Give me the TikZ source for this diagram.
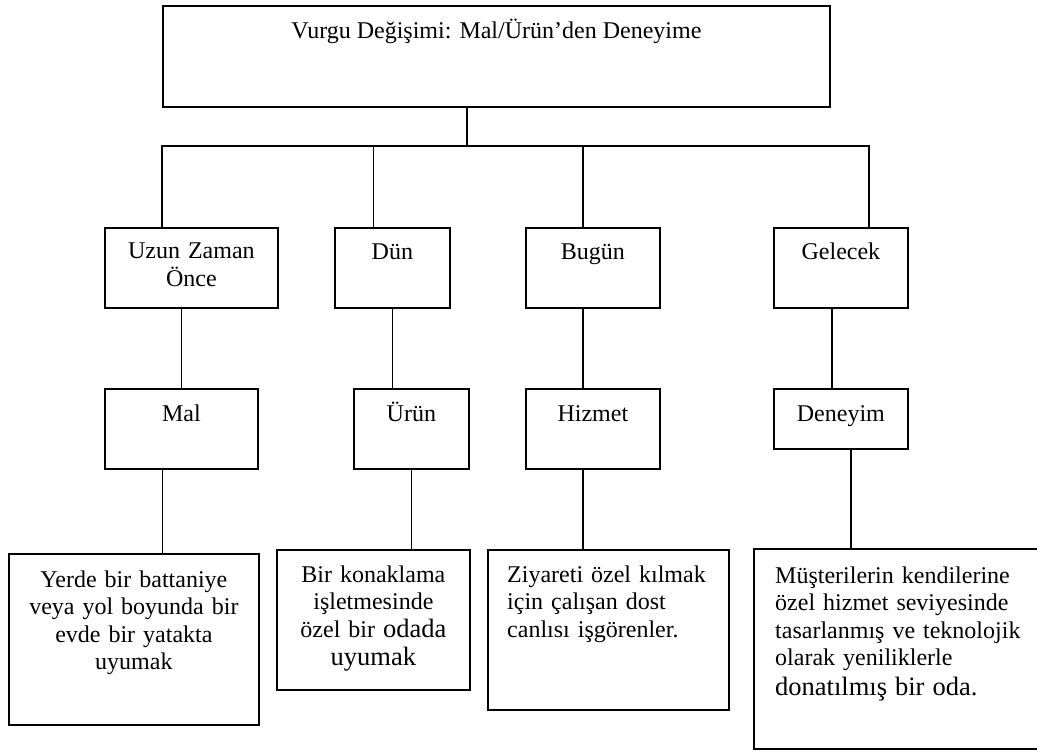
\documentclass[tikz,border=0pt]{standalone}
\usepackage{fontspec}
\setmainfont{Liberation Serif}

\begin{document}
\begin{tikzpicture}[x=1pt,y=-1pt,
    box/.style={draw, line width=1.8pt, inner sep=0pt, anchor=north west},
    lbl/.style={inner sep=0pt, anchor=base, align=center,
      font=\fontsize{24}{27.6}\selectfont},
    link/.style={line width=1.4pt}]
  \useasboundingbox (0,0) rectangle (1037,751);

  % Draw top box
  \node[box, minimum width=667pt, minimum height=101pt] (vurgu) at (162,5) {};
  \node[lbl] (vurgu-t) at ([yshift=-34pt]vurgu.north) {Vurgu Değişimi: Mal/Ürün’den Deneyime};

  % Draw time boxes
  \node[box, minimum width=173pt, minimum height=80pt] (uzun) at (104,227) {};
  \node[box, minimum width=115pt, minimum height=80pt] (dun) at (334,227) {};
  \node[box, minimum width=134pt, minimum height=80pt] (bugun) at (525,227) {};
  \node[box, minimum width=134pt, minimum height=80pt] (gelecek) at (773,227) {};
  \node[lbl, text width=173pt] (uzun-t) at ([yshift=-32pt]uzun.north) {Uzun Zaman\\Önce};
  \node[lbl] (dun-t) at ([yshift=-33pt]dun.north) {Dün};
  \node[lbl] (bugun-t) at ([yshift=-33pt]bugun.north) {Bugün};
  \node[lbl] (gelecek-t) at ([yshift=-33pt]gelecek.north) {Gelecek};

  % Draw offer boxes
  \node[box, minimum width=153pt, minimum height=80pt] (mal) at (104,388) {};
  \node[box, minimum width=115pt, minimum height=80pt] (urun) at (353,388) {};
  \node[box, minimum width=134pt, minimum height=80pt] (hizmet) at (525,388) {};
  \node[box, minimum width=134pt, minimum height=60pt] (deneyim) at (773,388) {};
  \node[lbl] (mal-t) at ([yshift=-33pt]mal.north) {Mal};
  \node[lbl] (urun-t) at ([yshift=-33pt]urun.north) {Ürün};
  \node[lbl] (hizmet-t) at ([yshift=-33pt]hizmet.north) {Hizmet};
  \node[lbl] (deneyim-t) at ([yshift=-33pt]deneyim.north) {Deneyim};

  % Draw example boxes
  \node[box, minimum width=250pt, minimum height=171pt] (yerde) at (8,553) {};
  \node[box, minimum width=193pt, minimum height=140pt] (konak) at (276,549) {};
  \node[box, minimum width=241pt, minimum height=160pt] (ziyaret) at (487,549) {};
  \node[box, minimum width=300pt, minimum height=200pt] (musteri) at (753,548) {};
  \node[lbl, text width=250pt] (yerde-t) at ([yshift=-34pt]yerde.north)
    {Yerde bir battaniye\\veya yol boyunda bir\\evde bir yatakta\\uyumak};
  \node[lbl, text width=193pt] (konak-t) at ([yshift=-33pt]konak.north)
    {Bir konaklama\\işletmesinde\\özel bir {\fontsize{26.5}{27.6}\selectfont odada}\\[1pt]
     {\fontsize{26.5}{27.6}\selectfont uyumak}};
  \node[lbl, anchor=base west, align=left, text width=215pt] (ziyaret-t)
    at ([xshift=20pt,yshift=-33pt]ziyaret.north west)
    {Ziyareti özel kılmak\\için çalışan dost\\canlısı işgörenler.};
  \node[lbl, anchor=base west, align=left, text width=270pt] (musteri-t)
    at ([xshift=22pt,yshift=-35pt]musteri.north west)
    {Müşterilerin kendilerine\\özel hizmet seviyesinde\\tasarlanmış ve teknolojik\\olarak yeniliklerle\\[2pt]
     {\fontsize{26.5}{27.6}\selectfont donatılmış bir oda.}};

  % Connect top box to time boxes
  \coordinate (hub) at (467,146);
  \coordinate (bus-w) at (162,146);
  \coordinate (bus-e) at (869,146);
  \draw[link] (vurgu.south -| hub) -- (hub);
  \draw[link] (uzun.north -| bus-w) -- (bus-w) -- (bus-e) -- (gelecek.north -| bus-e);
  \draw[link] ([xshift=-19pt]dun.north) -- ([xshift=-19pt]dun.north |- hub);
  \draw[link] ([xshift=-10pt]bugun.north) -- ([xshift=-10pt]bugun.north |- hub);

  % Connect time boxes to offer boxes
  \draw[link] (mal.north) -- (mal.north |- uzun.south);
  \draw[link] (dun.south) -- (dun.south |- urun.north);
  \draw[link] ([xshift=-10pt]bugun.south) -- ([xshift=-10pt]hizmet.north);
  \draw[link] ([xshift=-9pt]gelecek.south) -- ([xshift=-9pt]deneyim.north);

  % Connect offer boxes to examples
  \draw[link] ([xshift=-19pt]mal.south) -- ([xshift=-19pt]mal.south |- yerde.north);
  \draw[link] (urun.south) -- (urun.south |- konak.north);
  \draw[link] ([xshift=-10pt]hizmet.south) -- ([xshift=-10pt]hizmet.south |- ziyaret.north);
  \draw[link] ([xshift=10pt]deneyim.south) -- ([xshift=10pt]deneyim.south |- musteri.north);

\end{tikzpicture}
\end{document}
